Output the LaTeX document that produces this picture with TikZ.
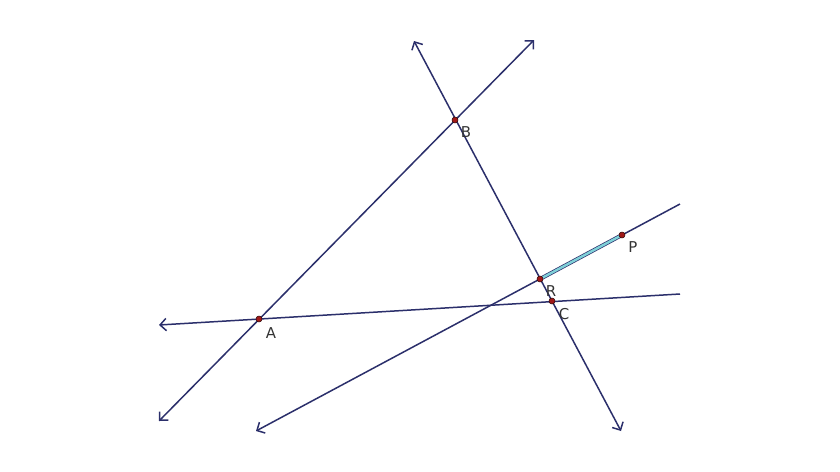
\documentclass[tikz,border=0pt]{standalone}
\usepackage{fontspec}
\setsansfont{DejaVu Sans}
\usetikzlibrary{positioning,arrows.meta}
\definecolor{lineblue}{HTML}{2B2F6B}
\definecolor{ptred}{HTML}{A01818}
\definecolor{segcyan}{HTML}{7FD0D8}
\begin{document}
\begin{tikzpicture}[x=0.02cm, y=-0.02cm, >={Straight Barb[length=3.5pt, width=7pt]},
    geoline/.style={draw=lineblue, line width=0.85pt},
    pt/.style={circle, draw=black!70!ptred, fill=ptred, inner sep=0pt, minimum size=0.12cm, line width=0.3pt},
    lbl/.style={font=\sffamily\fontsize{8.5}{10}\selectfont, text=black!80, inner sep=0pt}]
    \fill[white] (0,0) rectangle (840,471);
    \useasboundingbox (0,0) rectangle (840,471);
    % points
    \coordinate (A) at (259,319);
    \coordinate (B) at (455,120);
    \coordinate (C) at (552,301);
    \coordinate (R) at (540,279);
    \coordinate (P) at (622,235);
    % line ends
    \coordinate (ab1) at (159,421);
    \coordinate (ab2) at (534,40);
    \coordinate (bc1) at (414,41);
    \coordinate (bc2) at (621,431);
    \coordinate (ac1) at (159,325);
    \coordinate (ac2) at (680,294);
    \coordinate (rp1) at (256,431);
    \coordinate (rp2) at (680,204);
    % lines
    \draw[geoline, <->] (ab1) -- (ab2);
    \draw[geoline, <->] (bc1) -- (bc2);
    \draw[geoline, <-] (ac1) -- (ac2);
    \draw[geoline, <-] (rp1) -- (rp2);
    \draw[lineblue, line width=2.2pt] (R) -- (P);
    \draw[segcyan, line width=1.4pt] (R) -- (P);
    % dots and labels
    \foreach \p in {A,B,C,R,P}
        \node[pt] (pt\p) at (\p) {};
    \node[lbl] (labA) at (271,333) {A};
    \node[lbl] (labB) at (466,132) {B};
    \node[lbl] (labR) at (551,291) {R};
    \node[lbl] (labC) at (564,314) {C};
    \node[lbl] (labP) at (633,247) {P};
\end{tikzpicture}
\end{document}
